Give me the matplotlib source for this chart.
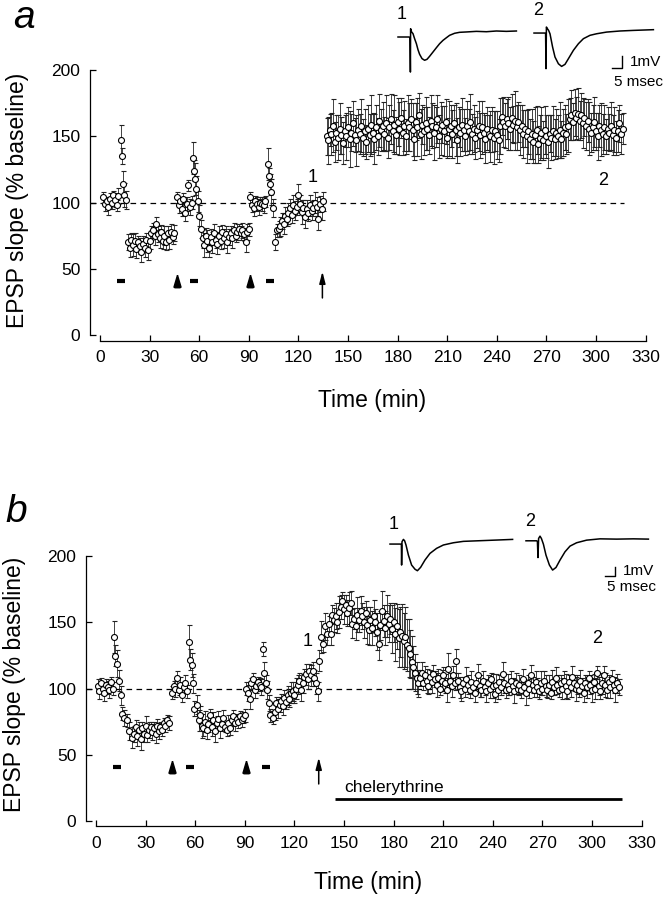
import numpy as np
import matplotlib.pyplot as plt
from matplotlib.path import Path

plt.rcParams['font.family'] = ['Liberation Sans', 'DejaVu Sans']

# ---------------- panel a : EPSP slope (% baseline) ----------------
t_a = (list(range(2, 12)) + [12.5, 13.2, 14, 14.8, 15.6] + list(range(17, 46))
       + list(np.arange(46.5, 56)) + [56.5, 57.1, 57.7, 58.3, 59, 60, 61]
       + list(range(62, 91)) + list(range(91, 101)) + [101.5, 102.1, 102.8, 103.6, 104.5]
       + list(range(106, 136)) + list(range(137, 317)))
v_a = ([104, 99, 101, 97, 103, 100, 106, 102, 98, 105]
       + [147, 135, 114, 106, 102]
       + [70, 66, 72, 68, 71, 65, 70, 67, 63, 69, 66, 72, 64, 71, 77, 79, 75, 84, 76, 73,
          78, 71, 75, 70, 77, 72, 78, 74, 77]
       + [104, 98, 101, 95, 103, 92, 99, 113, 97, 100]
       + [134, 124, 118, 110, 101, 90, 80]
       + [73, 68, 75, 71, 66, 74, 70, 77, 72, 69, 75, 71, 78, 73, 76, 70, 74, 77, 73, 79,
          75, 78, 80, 77, 79, 76, 70, 78, 80]
       + [104, 98, 96, 101, 99, 97, 100, 99, 98, 101]
       + [129, 120, 114, 108, 96]
       + [70, 79, 80, 82, 86, 84, 90, 88, 92, 96, 91, 98, 94, 97, 106, 99, 93, 96, 89, 95,
          92, 98, 94, 96, 100, 97, 88, 99, 95, 101]
       + [150, 147, 155, 152, 158, 146, 153, 149, 156, 151,
          145, 154, 150, 157, 148, 153, 160, 151, 147, 155,
          152, 158, 149, 154, 146, 156, 151, 159, 153, 148,
          157, 150, 162, 155, 158, 152, 160, 149, 157, 163,
          154, 159, 151, 161, 156, 164, 153, 158, 150, 160,
          157, 163, 155, 148, 161, 157, 166, 152, 159, 154,
          160, 156, 151, 162, 158, 153, 157, 163, 150, 156,
          159, 154, 161, 149, 156, 158, 152, 160, 155, 147,
          157, 153, 159, 155, 150, 158, 154, 161, 152, 156,
          149, 155, 158, 151, 157, 153, 148, 156, 152, 150,
          155, 149, 154, 151, 147, 158, 165, 161, 158, 163,
          160, 156, 164, 159, 162, 157, 161, 155, 158, 152,
          156, 150, 154, 148, 152, 146, 151, 155, 144, 149,
          153, 147, 155, 150, 146, 152, 149, 154, 148, 153,
          150, 155, 148, 153, 157, 152, 158, 163, 166, 161,
          168, 164, 167, 162, 166, 160, 164, 158, 162, 156,
          153, 157, 161, 154, 150, 158, 155, 152, 157, 150,
          156, 153, 158, 151, 155, 149, 154, 160, 152, 156])
e_a = ([4, 5, 3, 6, 4, 5, 3, 5, 4, 6]
       + [12, 6, 10, 9, 7]
       + [6, 7, 5, 8, 6, 7, 5, 6, 8, 6, 7, 5, 7, 6, 5, 6, 7, 5, 6, 7, 5, 6, 7, 6, 5, 7, 6, 5, 6]
       + [4, 6, 3, 5, 4, 6, 5, 4, 6, 5]
       + [12, 8, 12, 10, 8, 8, 7]
       + [7, 9, 6, 8, 7, 6, 8, 7, 6, 8, 7, 6, 5, 7, 6, 8, 6, 5, 7, 6, 5, 6, 4, 5, 6, 5, 7, 6, 5]
       + [4, 5, 6, 4, 5, 6, 4, 5, 6, 4]
       + [12, 6, 8, 10, 7]
       + [6, 5, 6, 7, 6, 8, 7, 6, 8, 7, 6, 8, 7, 6, 8, 7, 9, 6, 8, 7, 6, 8, 7, 6, 8, 7, 9, 6, 8, 7]
       + [14, 18, 12, 16, 20, 15, 13, 17, 19, 14,
          16, 12, 18, 15, 21, 14, 17, 13, 19, 16,
          15, 20, 14, 17, 13, 18, 16, 22, 15, 19,
          17, 14, 20, 16, 18, 13, 21, 15, 17, 19,
          16, 22, 14, 18, 20, 15, 17, 19, 13, 21,
          18, 15, 20, 16, 14, 22, 17, 19, 15, 18,
          20, 16, 14, 19, 17, 21, 15, 18, 16, 20,
          14, 19, 17, 15, 21, 16, 18, 14, 20, 17,
          15, 18, 20, 16, 14, 19, 17, 21, 15, 18,
          16, 14, 19, 17, 20, 15, 18, 16, 14, 19,
          17, 20, 15, 18, 16, 21, 14, 19, 17, 15,
          20, 16, 18, 14, 22, 17, 15, 19, 16, 18,
          14, 20, 17, 15, 19, 16, 21, 18, 14, 17,
          19, 15, 18, 16, 20, 14, 17, 19, 15, 18,
          16, 21, 14, 18, 17, 15, 20, 16, 19, 14,
          18, 16, 20, 15, 17, 19, 14, 18, 16, 20,
          15, 17, 19, 14, 18, 16, 20, 15, 17, 13,
          16, 14, 18, 15, 17, 13, 16, 14, 15, 12])

# ---------------- panel b ----------------
t_b = (list(range(1, 11)) + [11, 11.6, 12.8, 14, 15]
       + [15.8, 17, 18.5, 20, 21.5, 23] + list(range(24, 45))
       + list(range(46, 56)) + [56, 57, 58, 58.7]
       + [59.5, 61] + list(range(62, 91))
       + list(range(91, 101)) + [101, 101.7, 102.6, 103.5, 104.5, 105.5]
       + list(range(107, 135)) + [135, 136, 137, 138.4, 139.5, 141, 142, 143, 144]
       + list(range(145, 196)) + list(range(196, 317)))
v_b = ([102, 98, 104, 100, 97, 103, 101, 99, 105, 100]
       + [139, 125, 119, 106, 95]
       + [81, 78, 76, 68, 63, 66]
       + [71, 64, 69, 62, 70, 66, 72, 65, 69, 71, 67, 70, 66, 72, 68, 71, 69, 74, 72, 76, 74]
       + [97, 102, 100, 108, 99, 103, 95, 101, 104, 98]
       + [135, 122, 118, 104]
       + [85, 88]
       + [76, 80, 72, 70, 75, 69, 73, 80, 71, 76, 68, 74, 77, 70, 73, 78, 71, 69, 74, 70,
          76, 79, 74, 77, 75, 79, 76, 78, 80]
       + [100, 97, 92, 104, 107, 99, 102, 105, 103, 101]
       + [130, 112, 104, 99, 89, 80]
       + [78, 82, 89, 85, 88, 91, 87, 93, 90, 95, 92, 97, 98, 95, 100, 103, 106, 99, 104, 109,
          111, 107, 113, 110, 113, 108, 104, 98]
       + [121, 139, 134, 147, 141, 149, 141, 156, 152]
       + [155, 150, 158, 162, 166, 160, 163, 157, 161, 165,
          149, 153, 147, 156, 152, 159, 155, 150, 157, 148,
          144, 152, 146, 155, 150, 143, 134, 148, 159, 151,
          146, 155, 149, 153, 145, 150, 141, 147, 138, 143,
          140, 136, 139, 133, 131, 126, 120, 116, 112, 108, 104]
       + [108, 112, 104, 110, 106, 102, 109, 105, 111, 107,
          103, 108, 100, 106, 110, 104, 99, 115, 106, 102,
          110, 104, 121, 106, 101, 98, 104, 100, 107, 103,
          99, 105, 101, 97, 104, 110, 102, 99, 106, 101,
          98, 104, 100, 107, 102, 96, 103, 99, 105, 101,
          111, 104, 99, 103, 100, 106, 102, 98, 104, 100,
          103, 99, 107, 101, 97, 104, 100, 110, 103, 99,
          105, 101, 98, 104, 100, 106, 102, 99, 103, 97,
          105, 101, 108, 103, 99, 104, 100, 106, 102, 98,
          105, 101, 109, 104, 100, 103, 99, 106, 102, 97,
          104, 101, 108, 103, 99, 105, 100, 112, 102, 98,
          104, 110, 103, 99, 105, 101, 107, 103, 99, 104,
          101])
e_b = ([5, 6, 4, 5, 6, 4, 5, 6, 4, 5]
       + [12, 8, 10, 8, 7]
       + [5, 6, 5, 7, 8, 6]
       + [5, 7, 6, 8, 5, 6, 7, 5, 6, 4, 6, 5, 7, 5, 6, 4, 5, 4, 5, 4, 5]
       + [5, 4, 6, 5, 4, 6, 5, 4, 6, 5]
       + [13, 8, 9, 7]
       + [6, 7]
       + [8, 7, 9, 6, 8, 7, 6, 5, 7, 6, 8, 5, 6, 7, 5, 6, 4, 5, 6, 5, 4, 5, 6, 4, 5, 4, 5, 4, 5]
       + [5, 6, 7, 4, 5, 6, 5, 4, 5, 6]
       + [5, 8, 6, 7, 6, 5]
       + [5, 6, 5, 7, 6, 5, 7, 6, 5, 7, 6, 8, 7, 6, 8, 7, 6, 8, 7, 6, 8, 7, 6, 8, 7, 6, 8, 7]
       + [8, 12, 6, 10, 8, 6, 8, 7, 9]
       + [10, 8, 12, 9, 7, 11, 8, 10, 12, 9,
          11, 8, 10, 13, 9, 11, 10, 12, 9, 14,
          11, 10, 13, 12, 10, 14, 12, 11, 15, 12,
          13, 16, 14, 12, 18, 15, 20, 17, 22, 19,
          24, 21, 23, 20, 22, 18, 20, 16, 14, 12, 10]
       + [6, 8, 5, 7, 9, 6, 5, 8, 7, 6,
          9, 7, 5, 8, 6, 7, 9, 12, 6, 8,
          7, 5, 9, 6, 8, 7, 5, 6, 9, 7,
          6, 8, 5, 7, 6, 9, 8, 5, 7, 6,
          8, 6, 7, 5, 9, 6, 8, 7, 5, 6,
          9, 7, 6, 8, 5, 7, 6, 9, 8, 5,
          7, 6, 8, 5, 9, 6, 7, 8, 6, 5,
          8, 7, 6, 9, 5, 7, 8, 6, 7, 5,
          9, 6, 8, 7, 5, 6, 8, 7, 9, 6,
          5, 7, 8, 6, 9, 7, 5, 8, 6, 7,
          6, 8, 5, 7, 9, 6, 8, 5, 7, 6,
          8, 7, 9, 6, 5, 8, 7, 6, 9, 7,
          6])

# stimulation markers (time in min)
bars_a = [12.5, 57, 102.7]
heads_a = [46.5, 90.5]
arrow_a = 134.5
bars_b = [12.8, 57, 102.7]
heads_b = [46, 91]
arrow_b = 134.7
chel_start, chel_end = 144.4, 318.4

# EPSP traces (ms, mV)
tr_a1_t = [0, 5.5, 6.0, 6.2, 6.3, 6.8, 7.5, 8.3, 9.2, 10, 10.8, 12, 13.3, 14.5, 15.8, 17.5, 19.2,
           20.8, 22.5, 24.2, 25.8, 28.3, 30.8, 34.2, 39.2, 44.2, 49.2, 54.2, 59.2]
tr_a1_v = [0, 0, -0.06, -2.92, 0.69, 0.42, 0.28, -0.14, -0.56, -1.06, -1.44, -1.8, -1.94, -1.86,
           -1.61, -1.25, -0.89, -0.56, -0.28, -0.06, 0.14, 0.31, 0.39, 0.42, 0.47, 0.44, 0.5, 0.47, 0.5]
tr_a2_t = [0, 5.5, 5.8, 6.0, 6.2, 6.7, 7.3, 8.0, 9.3, 10.5, 12.2, 13.8, 15.5, 17.2, 19.7, 22.2,
           24.7, 28, 31.3, 36.3, 43, 49.7, 59.7]
tr_a2_v = [0, 0, -0.06, -2.97, 0.5, 0.36, 0.22, -0.06, -1.17, -2.0, -2.56, -2.78, -2.61, -2.14,
           -1.44, -0.89, -0.47, -0.19, -0.06, 0.08, 0.17, 0.22, 0.28]
tr_b1_t = [0, 5.3, 5.7, 5.8, 6.0, 6.7, 7.3, 8.0, 9.2, 10.8, 12.5, 13.7, 15.3, 17.5, 20, 23.3,
           26.7, 31.7, 36.7, 45, 53.3, 61.3]
tr_b1_v = [0, 0, -0.07, -2.25, 0.25, 0.5, 0.36, -0.1, -1.18, -2.25, -2.7, -2.86, -2.5, -1.71,
           -1.0, -0.46, -0.1, 0.14, 0.29, 0.36, 0.43, 0.5]
tr_b2_t = [0, 5.3, 5.7, 6.0, 6.3, 7.0, 7.7, 8.7, 10, 11.7, 13.3, 15, 17, 19.5, 22, 25.3, 30.3,
           37, 45.3, 53.7, 61.2]
tr_b2_v = [0, 0, -0.07, -1.8, 0.25, 0.5, 0.25, -0.36, -1.54, -2.6, -3.14, -2.86, -2.07, -1.18,
           -0.57, -0.21, 0.07, 0.21, 0.18, 0.21, 0.18]

head = Path([(0, 0.5), (0.28, -0.45), (0.2, -0.5), (-0.2, -0.5), (-0.28, -0.45), (0, 0.5)])

fig = plt.figure(figsize=(6.65, 9.0), dpi=100)


def panel(rect, t, v, e, bars, heads, arrow, ybot, dash_end):
    ax = fig.add_axes(rect)
    ax.hlines(100, -6, dash_end, colors='k', linestyles=(0, (4.5, 3.5)), lw=0.9, zorder=1)
    ax.errorbar(t, v, yerr=e, fmt='o', ms=4.3, mfc='white', mec='black', mew=0.8,
                ecolor='#222222', elinewidth=0.6, capsize=1.8, capthick=0.6, zorder=3)
    ax.plot(bars, [41] * len(bars), ls='none', marker='_', ms=5.5, mew=3, color='k')
    ax.plot(heads, [41] * len(heads), ls='none', marker=head, ms=9, color='k')
    ax.annotate('', xy=(arrow, 48), xytext=(arrow, 28),
                arrowprops=dict(arrowstyle='-|>,head_width=0.18,head_length=0.7',
                                lw=1.1, color='k', shrinkA=0, shrinkB=0))
    ax.set_xlim(-6.04, 330.5)
    ax.set_ylim(ybot, 201)
    for s in ['top', 'right']:
        ax.spines[s].set_visible(False)
    ax.spines['left'].set_bounds(0, 200)
    ax.spines['bottom'].set_bounds(0, 330)
    ax.spines['left'].set_linewidth(0.9)
    ax.spines['bottom'].set_linewidth(0.9)
    ax.set_xticks(range(0, 331, 30))
    ax.set_yticks([0, 50, 100, 150, 200])
    ax.tick_params(axis='both', direction='in', length=4, width=0.9, labelsize=12.5)
    ax.tick_params(axis='x', pad=7)
    ax.tick_params(axis='y', pad=7)
    return ax


ax_a = panel([90 / 665, 1 - 340.7 / 900, 556.5 / 665, 271.7 / 900], t_a, v_a, e_a,
             bars_a, heads_a, arrow_a, -4.3, 317)
ax_a.text(128.7, 119, '1', fontsize=13, ha='center', va='center')
ax_a.text(304, 116.5, '2', fontsize=13, ha='center', va='center')

ax_b = panel([86 / 665, 1 - 826 / 900, 556.5 / 665, 271 / 900], t_b, v_b, e_b,
             bars_b, heads_b, arrow_b, -3.76, 318)
ax_b.text(128, 136, '1', fontsize=13, ha='center', va='center')
ax_b.text(303, 137.6, '2', fontsize=13, ha='center', va='center')
ax_b.hlines(17, chel_start, chel_end, colors='k', lw=2)
ax_b.text(150, 25.5, 'chelerythrine', fontsize=12.5, ha='left', va='center')

# axis labels and panel letters
for x, y in [(18, 200), (15, 684)]:
    fig.text(x / 665, 1 - y / 900, 'EPSP slope (% baseline)', rotation=90,
             fontsize=16.5, ha='center', va='center')
for x, y in [(372, 400), (368, 882)]:
    fig.text(x / 665, 1 - y / 900, 'Time (min)', fontsize=16.5, ha='center', va='center')
fig.text(24 / 665, 1 - 28 / 900, 'a', fontsize=28, style='italic', ha='center', va='baseline')
fig.text(16 / 665, 1 - 522 / 900, 'b', fontsize=28, style='italic', ha='center', va='baseline')


# inset traces
def traces(rect, xlim, ylim, t1, v1, t2, v2, off1, off2, dv2, bar_t, bar_v, mv):
    ins = fig.add_axes(rect)
    ins.set_xlim(*xlim)
    ins.set_ylim(*ylim)
    ins.axis('off')
    ins.plot(np.array(t1) + off1, v1, color='k', lw=1.1)
    ins.plot(np.array(t2) + off2, np.array(v2) + dv2, color='k', lw=1.1)
    ins.text(off1 + 2, 1.2, '1', fontsize=13, ha='center', va='bottom')
    ins.text(off2 + 2, 1.2 + dv2, '2', fontsize=13, ha='center', va='bottom')
    ins.plot([bar_t - 5, bar_t, bar_t], [bar_v, bar_v, bar_v + mv], color='k', lw=1.0)
    ins.text(bar_t + 4, bar_v + 0.5 * mv, '1mV', fontsize=11, ha='left', va='center')
    ins.text(bar_t - 4, bar_v - 1.2 * mv, '5 msec', fontsize=11, ha='left', va='center')


traces([395 / 665, 1 - 95 / 900, 270 / 665, 85 / 900], (0, 135), (-4.833, 2.25),
       tr_a1_t, tr_a1_v, tr_a2_t, tr_a2_v, 1.5, 69.5, 0.33, 113.5, -2.58, 1.0)
traces([385 / 665, 1 - 600 / 900, 280 / 665, 95 / 900], (0, 140), (-6.0, 4.19),
       tr_b1_t, tr_b1_v, tr_b2_t, tr_b2_v, 2.5, 70.5, 0.35, 115, -3.44, 1.0)

fig.savefig('out.png', dpi=100)
